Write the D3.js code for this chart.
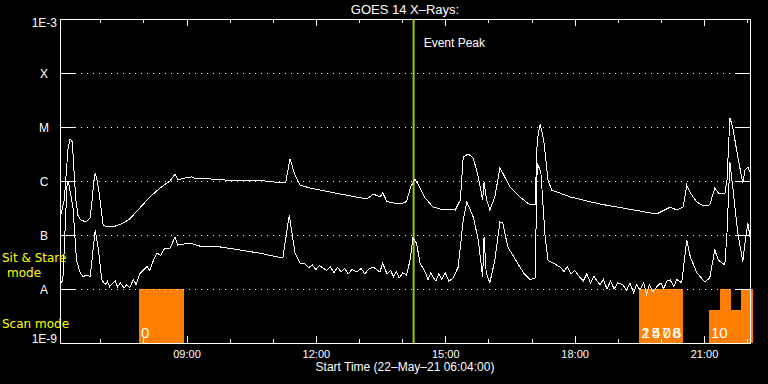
<!DOCTYPE html>
<html><head><meta charset="utf-8">
<script src="https://cdn.jsdelivr.net/npm/d3@7"></script>
<style>
html,body{margin:0;padding:0;background:#000;}
svg{display:block;font-family:"Liberation Sans",Arial,sans-serif;}
</style></head>
<body>
<svg id="chart" width="768" height="384"></svg>
<script>
// ---- data ----
const longSeries = [["06:05",2.3e-7],["06:10",4.5e-7],["06:12",1.04e-6],["06:15",3.75e-6],["06:18",6.0e-6],["06:21",5.3e-6],["06:23",2.0e-6],["06:26",4.5e-7],["06:29",2.3e-7],["06:33",1.9e-7],["06:40",1.74e-7],["06:46",2.06e-7],["06:48",3.6e-7],["06:51",9.6e-7],["06:53",1.41e-6],["06:55",1.14e-6],["06:58",6.8e-7],["07:02",2.55e-7],["07:04",1.53e-7],["07:09",1.41e-7],["07:18",1.41e-7],["07:32",1.67e-7],["07:41",1.98e-7],["07:55",3.16e-7],["08:09",5.06e-7],["08:23",7.4e-7],["08:37",1.0e-6],["08:44",1.35e-6],["08:48",1.04e-6],["08:58",1.14e-6],["09:07",1.19e-6],["09:14",1.09e-6],["09:33",1.09e-6],["10:14",1.0e-6],["10:38",1.04e-6],["11:00",9.6e-7],["11:18",9.3e-7],["11:24",2.55e-6],["11:31",1.29e-6],["11:38",8.4e-7],["11:52",7.4e-7],["12:34",5.74e-7],["13:11",4.64e-7],["13:20",5.74e-7],["13:29",5.06e-7],["13:33",6.0e-7],["13:39",4.14e-7],["13:57",3.75e-7],["14:06",4.14e-7],["14:12",7.8e-7],["14:18",1.09e-6],["14:25",7.4e-7],["14:32",4.84e-7],["14:43",3.3e-7],["14:53",3.03e-7],["15:14",2.9e-7],["15:21",4.45e-7],["15:25",2.78e-6],["15:32",3.16e-6],["15:39",2.67e-6],["15:46",1.19e-6],["15:52",4.45e-7],["15:54",9.6e-7],["15:57",4.84e-7],["16:02",2.9e-7],["16:09",5.06e-7],["16:16",1.74e-6],["16:20",1.41e-6],["16:30",7.7e-7],["16:44",5.06e-7],["16:58",3.6e-7],["17:05",3.6e-7],["17:08",5.74e-6],["17:12",1.14e-5],["17:17",5.74e-6],["17:23",1.04e-6],["17:28",6.8e-7],["17:54",5.06e-7],["18:35",3.75e-7],["19:07",3.16e-7],["19:54",2.45e-7],["20:08",3.03e-7],["20:13",3.3e-7],["20:22",2.9e-7],["20:31",3.3e-7],["20:36",8.4e-7],["20:41",6.0e-7],["20:50",4.08e-7],["20:59",3.46e-7],["21:08",3.6e-7],["21:15",7.4e-7],["21:20",6.0e-7],["21:29",5.74e-7],["21:32",1.04e-6],["21:36",1.47e-5],["21:40",1.0e-5],["21:47",2.78e-6],["21:54",9.2e-7],["21:57",1.6e-6],["22:01",1.82e-6],["22:04",1.47e-6]];

const shortSeries = [["06:06",1.3e-8],["06:08",1.5e-8],["06:11",1.2e-7],["06:14",9.6e-7],["06:16",9.2e-7],["06:22",3.3e-7],["06:27",3.4e-8],["06:32",2.0e-8],["06:36",1.7e-8],["06:41",1.8e-8],["06:46",1.7e-8],["06:48",3.0e-8],["06:53",1.24e-7],["06:57",6.0e-8],["07:02",1.5e-8],["07:07",1.2e-8],["07:10",1.4e-8],["07:13",1.1e-8],["07:18",1.3e-8],["07:21",1.4e-8],["07:24",1.1e-8],["07:28",1.3e-8],["07:33",1.05e-8],["07:37",1.2e-8],["07:41",1.05e-8],["07:46",1.5e-8],["07:50",1.2e-8],["07:55",1.9e-8],["08:00",2.25e-8],["08:05",2.6e-8],["08:09",2.2e-8],["08:14",3.4e-8],["08:19",4.6e-8],["08:24",4.2e-8],["08:29",5.5e-8],["08:37",5.7e-8],["08:44",9.2e-8],["08:48",6.5e-8],["09:05",7.1e-8],["09:19",6.2e-8],["09:47",6.0e-8],["10:14",5.3e-8],["10:42",4.6e-8],["11:14",3.75e-8],["11:23",2.34e-7],["11:31",4.6e-8],["11:38",3.0e-8],["11:45",2.9e-8],["11:50",2.5e-8],["11:55",2.8e-8],["12:00",2.3e-8],["12:05",2.7e-8],["12:10",2.45e-8],["12:15",2.2e-8],["12:20",2.6e-8],["12:25",2.0e-8],["12:30",2.5e-8],["12:35",2.1e-8],["12:40",2.4e-8],["12:45",1.9e-8],["12:50",2.3e-8],["12:57",2.06e-8],["13:03",2.4e-8],["13:08",1.9e-8],["13:13",2.3e-8],["13:20",2.55e-8],["13:29",2.06e-8],["13:33",3.0e-8],["13:39",1.9e-8],["13:44",2.2e-8],["13:48",1.7e-8],["13:52",2.1e-8],["13:56",1.6e-8],["14:01",2.0e-8],["14:06",1.8e-8],["14:11",3.4e-8],["14:15",8.8e-8],["14:20",7.1e-8],["14:25",3.0e-8],["14:32",2.06e-8],["14:36",1.5e-8],["14:40",2.0e-8],["14:43",1.67e-8],["14:47",1.4e-8],["14:51",1.9e-8],["14:55",1.5e-8],["15:00",2.0e-8],["15:05",1.4e-8],["15:11",1.6e-8],["15:18",2.55e-8],["15:25",1.9e-7],["15:30",4.1e-7],["15:39",2.15e-7],["15:46",8.1e-8],["15:52",1.67e-8],["15:54",9.2e-8],["15:57",2.0e-8],["16:02",1.3e-8],["16:09",3.4e-8],["16:16",1.74e-7],["16:20",1.67e-7],["16:27",6.0e-8],["16:44",2.55e-8],["16:50",1.9e-8],["16:58",1.5e-8],["17:05",1.6e-8],["17:08",2.15e-6],["17:13",1.47e-6],["17:19",9.2e-8],["17:23",3.4e-8],["17:40",2.55e-8],["17:45",2.1e-8],["17:50",2.6e-8],["17:55",1.9e-8],["18:00",2.2e-8],["18:07",1.67e-8],["18:12",1.4e-8],["18:17",1.9e-8],["18:22",1.3e-8],["18:27",1.7e-8],["18:35",1.2e-8],["18:40",1.5e-8],["18:45",1.0e-8],["18:50",1.4e-8],["18:55",1.0e-8],["19:00",1.3e-8],["19:07",1.2e-8],["19:12",0.95e-8],["19:17",1.3e-8],["19:22",0.85e-8],["19:26",1.2e-8],["19:31",0.96e-8],["19:36",1.3e-8],["19:40",0.8e-8],["19:44",1.2e-8],["19:49",0.9e-8],["19:54",1.09e-8],["20:00",1.3e-8],["20:04",1.0e-8],["20:08",1.4e-8],["20:13",1.47e-8],["20:18",1.1e-8],["20:22",1.5e-8],["20:29",1.3e-8],["20:36",8.1e-8],["20:41",3.9e-8],["20:50",2.0e-8],["21:01",1.35e-8],["21:08",1.6e-8],["21:15",5.3e-8],["21:20",3.4e-8],["21:29",2.8e-8],["21:32",1.09e-7],["21:36",2.25e-6],["21:40",7.7e-7],["21:47",1.09e-7],["21:54",3.2e-8],["21:57",7.1e-8],["22:01",1.67e-7],["22:04",9.2e-8]];

// observing-mode intervals: [start, end, level]
const modeBars = [["07:54","08:56",1e-8],["19:30","20:31",1e-8],["21:07","21:22",4.1e-9],["21:22","21:37",1e-8],["21:37","21:51",4.1e-9],["21:51","22:08",1e-8]];
const modeLabels = [["07:54","0"],["19:30","2578"],["19:31","1406"],["21:07","10"]];

const levelValues = [1e-9,1e-8,1e-7,1e-6,1e-5,1e-4,1e-3];
const levelLabels = ["1E-9","A","B","C","M","X","1E-3"];
const gridValues = [1e-8,1e-7,1e-6,1e-5,1e-4];
const majorTicks = ["09:00","12:00","15:00","18:00","21:00"];
const minorTicks = ["07:00","08:00","10:00","11:00","13:00","14:00","16:00","17:00","19:00","20:00","22:00"];
const timeRange = ["06:04","22:04"];
const fluxRange = [1e-9,1e-3];
const eventPeak = "14:16";
const titleText = "GOES 14 X\u2013Rays:";
const xTitle = "Start Time (22\u2013May\u201321 06:04:00)";

// ---- drawing ----
const parse = s => d3.timeParse("%Y-%m-%d %H:%M")("2021-05-22 " + s);
const L = 60, R = 750, T = 19, B = 343;
const svg = d3.select("#chart");
svg.append("rect").attr("width",768).attr("height",384).attr("fill","#000");

const x = d3.scaleTime().domain(timeRange.map(parse)).range([L, R]);
const y = d3.scaleLog().domain(fluxRange).range([B, T]);

// orange mode bars
svg.append("g").selectAll("rect").data(modeBars).join("rect")
  .attr("x", d => x(parse(d[0])))
  .attr("width", d => x(parse(d[1])) - x(parse(d[0])))
  .attr("y", d => y(d[2]))
  .attr("height", d => y(fluxRange[0]) - y(d[2]))
  .attr("fill", "#ff8000")
  .attr("shape-rendering","crispEdges");

// grid dotted lines
svg.append("g").selectAll("line").data(gridValues).join("line")
  .attr("x1", L + 15).attr("x2", R - 14)
  .attr("y1", d => Math.round(y(d)) + 0.5).attr("y2", d => Math.round(y(d)) + 0.5)
  .attr("stroke","#fff").attr("stroke-width",1).attr("stroke-dasharray","1,5")
  .attr("shape-rendering","crispEdges");

// axes
function styleAxis(g){
  g.selectAll("path,line").attr("stroke","#fff").attr("shape-rendering","crispEdges");
  g.selectAll("text").attr("fill","#fff").attr("font-size",11).attr("font-family","Liberation Sans, Arial, sans-serif");
}
svg.append("g").attr("transform",`translate(0,${B})`)
  .call(d3.axisBottom(x).tickValues(majorTicks.map(parse)).tickSize(-7).tickSizeOuter(0).tickPadding(7).tickFormat(d3.timeFormat("%H:%M")))
  .call(styleAxis);
svg.append("g").attr("transform",`translate(0,${B})`)
  .call(d3.axisBottom(x).tickValues(minorTicks.map(parse)).tickSize(-4).tickSizeOuter(0).tickFormat(""))
  .call(styleAxis);
svg.append("g").attr("transform",`translate(0,${T})`)
  .call(d3.axisTop(x).tickValues(majorTicks.map(parse)).tickSize(-7).tickSizeOuter(0).tickFormat(""))
  .call(styleAxis);
svg.append("g").attr("transform",`translate(0,${T})`)
  .call(d3.axisTop(x).tickValues(minorTicks.map(parse)).tickSize(-4).tickSizeOuter(0).tickFormat(""))
  .call(styleAxis);
svg.append("g").attr("transform",`translate(${L},0)`)
  .call(d3.axisLeft(y).tickValues(levelValues).tickSize(-15).tickSizeOuter(0).tickFormat(""))
  .call(styleAxis);
svg.append("g").attr("transform",`translate(${R},0)`)
  .call(d3.axisRight(y).tickValues(levelValues).tickSize(-14).tickSizeOuter(0).tickFormat(""))
  .call(styleAxis);

// y level labels
svg.append("g").selectAll("text").data(levelValues).join("text")
  .attr("x", (d,i) => (i===0 || i===levelValues.length-1) ? 57 : 44)
  .attr("y", (d,i) => i===0 ? y(d) : (i===levelValues.length-1 ? y(d)+8 : y(d)+5))
  .attr("text-anchor", (d,i) => (i===0 || i===levelValues.length-1) ? "end" : "middle")
  .attr("fill","#fff").attr("font-size",12)
  .text((d,i) => levelLabels[i]);

// mode labels (yellow)
const yellow = "#ffff00";
svg.append("text").attr("x",2).attr("y",262).attr("fill",yellow).attr("font-size",12)
  .attr("font-family","DejaVu Sans, sans-serif").text("Sit & Stare");
svg.append("text").attr("x",24).attr("y",277).attr("text-anchor","middle").attr("fill",yellow).attr("font-size",12)
  .attr("font-family","DejaVu Sans, sans-serif").text("mode");
svg.append("text").attr("x",2).attr("y",328).attr("fill",yellow).attr("font-size",12)
  .attr("font-family","DejaVu Sans, sans-serif").text("Scan mode");

// event peak line
svg.append("line")
  .attr("x1", x(parse(eventPeak))).attr("x2", x(parse(eventPeak)))
  .attr("y1", T).attr("y2", B)
  .attr("stroke","#99cc00").attr("stroke-width",2);
svg.append("text").attr("x", x(parse(eventPeak)) + 10).attr("y", 47)
  .attr("fill","#fff").attr("font-size",12).text("Event Peak");

// flux curves
const line = d3.line().x(d => x(parse(d[0]))).y(d => y(d[1]));
[longSeries, shortSeries].forEach(s => {
  svg.append("path").attr("d", line(s)).attr("fill","none")
    .attr("stroke","#fff").attr("stroke-width",1).attr("shape-rendering","crispEdges");
});

// bar labels
svg.append("g").selectAll("text").data(modeLabels).join("text")
  .attr("x", d => x(parse(d[0])) + 2)
  .attr("y", 338)
  .attr("fill","#fff").attr("font-size",15)
  .attr("letter-spacing", d => d[1].length > 2 ? 2 : 0)
  .text(d => d[1]);
svg.append("line")
  .attr("x1", x(parse(modeLabels[0][0])) + 4.5).attr("x2", x(parse(modeLabels[0][0])) + 4.5)
  .attr("y1", 338).attr("y2", B).attr("stroke","#fff");

// titles
svg.append("text").attr("x", (L+R)/2).attr("y", 14).attr("text-anchor","middle")
  .attr("fill","#fff").attr("font-size",13).text(titleText);
svg.append("text").attr("x", (L+R)/2).attr("y", 371).attr("text-anchor","middle")
  .attr("fill","#fff").attr("font-size",12).text(xTitle);
</script>
</body></html>
